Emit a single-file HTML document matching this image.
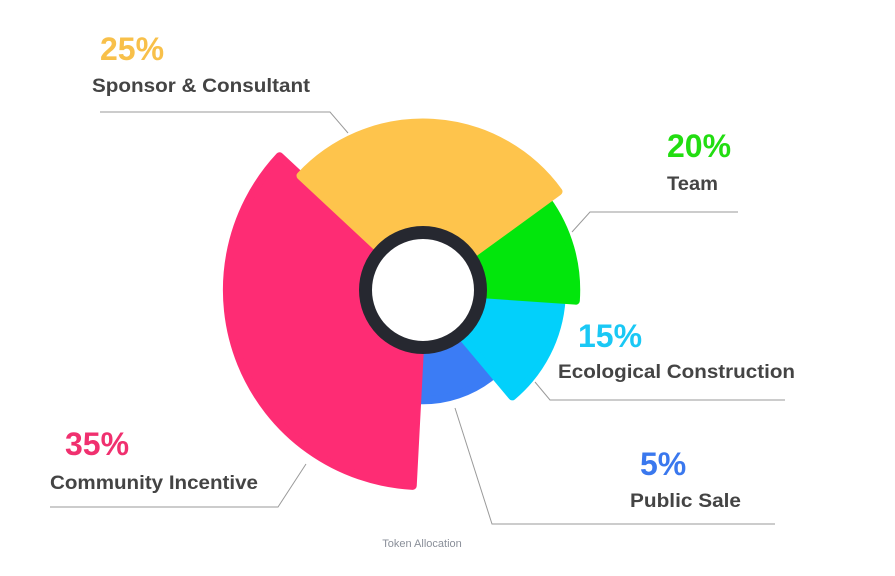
<!DOCTYPE html>
<html><head><meta charset="utf-8"><style>
html,body{margin:0;padding:0;background:#fff;}
svg{display:block;font-family:"Liberation Sans",Arial,sans-serif;}
</style></head><body>
<svg id="chart" width="895" height="576" viewBox="0 0 895 576" xmlns="http://www.w3.org/2000/svg">
<g id="slices"></g>
<circle cx="423" cy="290" r="57.5" fill="#fff" stroke="#262830" stroke-width="13"/>
<g id="labels"></g>
<text x="422" y="547" font-size="11" fill="#8a8f99" text-anchor="middle">Token Allocation</text>
</svg>
<script>
const categories = ["Community Incentive","Sponsor & Consultant","Team","Ecological Construction","Public Sale"];
const values = [35,25,20,15,5];
const percentLabels = ["35%","25%","20%","15%","5%"];
const sweepDeg = [130,101,40,46,43];
const colors = ["#fe2c74","#fec44c","#02e60c","#02d0fb","#3b7cf5"];
const pctColors = ["#f0306f","#f8c04a","#22dd11","#1ac8f5","#3a78ee"];

const cx=423, cy=290, r0=50, startDeg=183;
const rScale = v => 100 + 2.86*v;
const NS="http://www.w3.org/2000/svg";
function pt(a,r){const t=a*Math.PI/180;return [cx+r*Math.sin(t), cy-r*Math.cos(t)];}
const g=document.getElementById('slices');
let a=startDeg;
const order=[4,0,3,2,1];
const paths=[];
values.forEach((v,i)=>{
  const a0=a, a1=a+sweepDeg[i]; a=a1;
  const r=rScale(v)-4;
  const p0=pt(a0,r0),p1=pt(a0,r),p2=pt(a1,r),p3=pt(a1,r0);
  const large=(a1-a0)>180?1:0;
  const d=`M${p0[0]},${p0[1]} L${p1[0]},${p1[1]} A${r},${r} 0 ${large} 1 ${p2[0]},${p2[1]} L${p3[0]},${p3[1]} A${r0},${r0} 0 ${large} 0 ${p0[0]},${p0[1]} Z`;
  const el=document.createElementNS(NS,'path');
  
  
  el.setAttribute('d',d);
  el.setAttribute('fill',colors[i]);
  el.setAttribute('stroke',colors[i]);
  el.setAttribute('stroke-width','8');
  el.setAttribute('stroke-linejoin','round');
  paths[i]=el;
});
order.forEach(i=>g.appendChild(paths[i]));

const L=document.getElementById('labels');
const labelPos=[
 {px:65,py:455,tx:50,ty:489,tl:208,line:"M50,507 L278,507 L306,464"},
 {px:100,py:60,tx:92,ty:92,tl:218,line:"M100,112 L330,112 L348,133"},
 {px:667,py:157,tx:667,ty:190,tl:51,line:"M738,212 L590,212 L572,232"},
 {px:578,py:347,tx:558,ty:378,tl:237,line:"M785,400 L550,400 L535,382"},
 {px:640,py:475,tx:630,ty:507,tl:111,line:"M775,524 L492,524 L455,408"}
];
categories.forEach((c,i)=>{
  const lp=labelPos[i];
  const ln=document.createElementNS(NS,'path');
  
  
  ln.setAttribute('d',lp.line);ln.setAttribute('fill','none');ln.setAttribute('stroke','#9a9a9a');ln.setAttribute('stroke-width','1');
  L.appendChild(ln);
  const pt1=document.createElementNS(NS,'text');
  
  
  pt1.setAttribute('x',lp.px);pt1.setAttribute('y',lp.py);
  pt1.setAttribute('font-size','32');pt1.setAttribute('font-weight','bold');pt1.setAttribute('fill',pctColors[i]);
  pt1.textContent=percentLabels[i];
  L.appendChild(pt1);
  const t=document.createElementNS(NS,'text');
  
  
  t.setAttribute('x',lp.tx);t.setAttribute('y',lp.ty);
  t.setAttribute('font-size','19');t.setAttribute('font-weight','bold');t.setAttribute('fill','#444');
  t.setAttribute('textLength',lp.tl);t.setAttribute('lengthAdjust','spacingAndGlyphs');
  t.textContent=c;
  L.appendChild(t);
});
</script>
</body></html>
